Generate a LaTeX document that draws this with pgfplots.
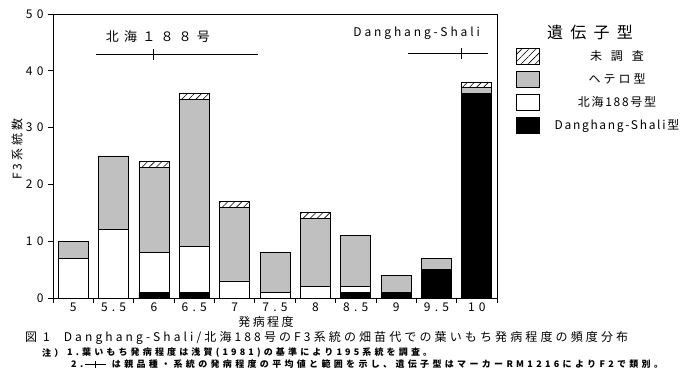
\documentclass[border=0pt]{standalone}
\usepackage{fontspec}
\setmainfont{Noto Sans CJK JP}
\usepackage{pgfplots}
\usepackage{pgfplotstable}
\pgfplotsset{compat=1.18}
\usetikzlibrary{patterns.meta}
\definecolor{barGray}{RGB}{192,192,192}

\pgfplotstableread{
x ds hk he un
0 0 7 3 0
1 0 12 13 0
2 1 7 15 1
3 1 8 26 1
4 0 3 13 1
5 0 1 7 0
6 0 2 12 1
7 1 1 9 0
8 1 0 3 0
9 5 0 2 0
10 36 0 1 1
}\data

\pgfplotsset{lgd/.style={legend image code/.code={\draw[##1,line width=0.8pt] (0pt,-8pt) rectangle (23pt,8pt);}}}

\begin{document}
\begin{tikzpicture}
\begin{axis}[
 scale only axis, width=444pt, height=284pt,
 xmin=-0.5, xmax=10.5, ymin=0, ymax=50,
 ybar stacked, bar width=30pt,
 xtick={-0.5,0.5,...,10.5}, xticklabels={},
 extra x ticks={0,1,...,10},
 extra x tick labels={5,5.5,6,6.5,7,7.5,8,8.5,9,9.5,10},
 extra x tick style={major tick length=0pt},
 xticklabel style={anchor=north, inner sep=0pt, yshift=-5pt, text height=8.5pt, text depth=0pt},
 ytick={0,10,...,50},
 tick align=outside, xtick pos=left, ytick pos=left,
 major tick length=5pt,
 axis line style={line width=0.8pt},
 tick style={line width=0.8pt, black},
 ticklabel style={font=\fontsize{12}{14}\selectfont\addfontfeatures{LetterSpace=35}},
 yticklabel style={xshift=-1pt},
 /pgf/number format/assume math mode=true,
 reverse legend,
 legend style={at={(1.0428,0.8803)}, anchor=north west, draw=none, fill=none,
   inner sep=0pt, row sep=6pt, column sep=6pt,
   nodes={inner sep=0pt},
   font=\fontsize{12}{14}\selectfont\addfontfeatures{LetterSpace=14}},
 clip=false,
]
\addplot[fill=black, draw=black, line width=0.8pt, lgd] table[x=x,y=ds]{\data};
\addlegendentry{\makebox[142pt][c]{Danghang-Shali型}}
\addplot[fill=white, draw=black, line width=0.8pt, lgd] table[x=x,y=hk]{\data};
\addlegendentry{\makebox[142pt][c]{北海188号型}}
\addplot[fill=barGray, draw=black, line width=0.8pt, lgd] table[x=x,y=he]{\data};
\addlegendentry{\makebox[142pt][c]{ヘ\hspace{3pt}テ\hspace{3pt}ロ\hspace{3pt}型}}
\addplot[preaction={fill=white}, pattern={Lines[angle=45,distance=5pt,line width=0.6pt]}, draw=black, line width=0.8pt, lgd] table[x=x,y=un]{\data};
\addlegendentry{\makebox[142pt][c]{未\hspace{9pt}調\hspace{9pt}査}}

\node[font=\fontsize{13}{15}\selectfont\addfontfeatures{LetterSpace=40}] at (axis cs:2.1,46.1) {北海１８８号};
\node[font=\fontsize{12}{14}\selectfont\addfontfeatures{LetterSpace=24}] at (axis cs:8.51,46.6) {Danghang-Shali};
\end{axis}

\begin{axis}[
 scale only axis, width=444pt, height=284pt,
 xmin=-0.5, xmax=10.5, ymin=0, ymax=50, hide axis, clip=false,
]
\addplot[black, line width=0.8pt, mark=none] coordinates {(0.57,42.8) (4.58,42.8)};
\addplot[black, line width=0.8pt, only marks, mark=|, mark size=5.5pt, mark options={line width=0.8pt}] coordinates {(1.98,42.8)};
\addplot[black, line width=0.8pt, mark=none] coordinates {(8.30,43.1) (10.28,43.1)};
\addplot[black, line width=0.8pt, only marks, mark=|, mark size=5.5pt, mark options={line width=0.8pt}] coordinates {(9.61,43.1)};
\end{axis}

% legend title
\node[font=\fontsize{16}{18}\selectfont\addfontfeatures{LetterSpace=45}] at (537pt,266pt) {遺伝子型};
% y label
\node[rotate=90, font=\fontsize{12}{14}\selectfont\addfontfeatures{LetterSpace=25}] at (-36pt,149pt) {F3系統数};
% x label
\node[inner sep=0pt, text height=10pt, text depth=1pt, font=\fontsize{12}{14}\selectfont\addfontfeatures{LetterSpace=20}] at (213pt,-24.5pt) {発病程度};
% caption
\node[anchor=west, inner sep=0pt, font=\fontsize{12}{14}\selectfont\addfontfeatures{LetterSpace=26}] at (-28pt,-40pt) {図\hspace{6pt}1\hspace{14pt}Danghang-Shali/北海188号のF3系統の畑苗代での葉いもち発病程度の頻度分布};
% notes
\node[anchor=west, inner sep=0pt, font=\bfseries\fontsize{9}{11}\selectfont\addfontfeatures{LetterSpace=35}] at (-11pt,-55pt) {注）};
\node[anchor=west, inner sep=0pt, font=\bfseries\fontsize{9}{11}\selectfont\addfontfeatures{LetterSpace=35}] at (14pt,-55pt) {1.葉いもち発病程度は浅賀(1981)の基準により195系統を調査。};
\node[anchor=west, inner sep=0pt, font=\bfseries\fontsize{9}{11}\selectfont\addfontfeatures{LetterSpace=37}] at (18pt,-66pt) {2.\hspace{2pt}\rule[2.5pt]{10pt}{0.8pt}\rule[-0.5pt]{0.8pt}{7pt}\rule[2.5pt]{10pt}{0.8pt}\hspace{6pt}は親品種・系統の発病程度の平均値と範囲を示し、遺伝子型はマーカーRM1216によりF2で類別。};
\path[use as bounding box] (-53pt,-82pt) rectangle (638pt,298pt);
\end{tikzpicture}
\end{document}
